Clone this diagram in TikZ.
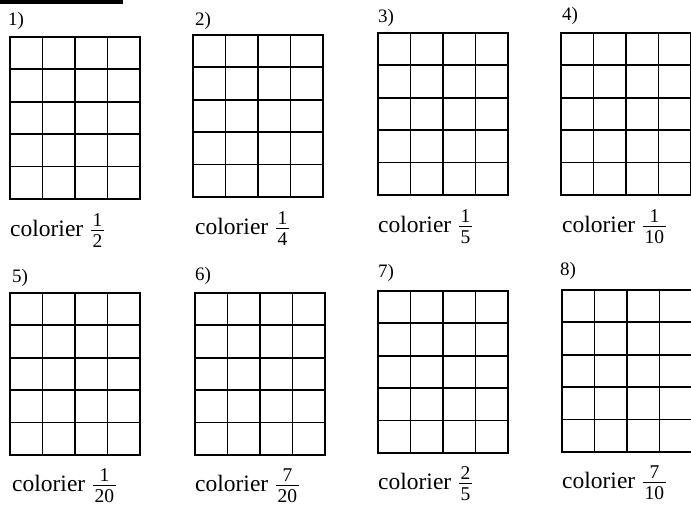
\documentclass[tikz,border=0pt]{standalone}
\usepackage{fontspec}
\setmainfont{Liberation Serif}
% stacked fraction with digits at text size
\newcommand{\frc}[2]{\hspace{2pt}\ensuremath{\vcenter{\fontsize{19.5}{20}\selectfont
  \setbox0\hbox{#1}\setbox2\hbox{#2}%
  \dimen0=\ifdim\wd0>\wd2 \wd0\else\wd2\fi
  \advance\dimen0 by 3pt
  \hbox to\dimen0{\hss\box0\hss}\kern3.6pt
  \hrule height 0.9pt
  \kern3.6pt
  \hbox to\dimen0{\hss\box2\hss}}}}

\begin{document}
\begin{tikzpicture}[x=1pt,y=1pt,
  grille/.pic={\draw[line width=1.8pt,x=32.5pt,y=32.4pt] (0,0) grid[step=1] (4,5) (0,0) rectangle (4,5);},
  numero/.style={anchor=base west,inner sep=0pt,font=\fontsize{19}{22}\selectfont},
  consigne/.style={anchor=base west,inner sep=0pt,font=\fontsize{23.5}{26}\selectfont}]
  \useasboundingbox (0,0) rectangle (691,506);
  % Bar at the top
  \fill (0,502) rectangle (123,506);
  % Exercise 1
  \pic at (10,307) {grille};
  \node[numero] (n1) at (8,480) {1)};
  \node[consigne] (c1) at (10,269) {colorier \frc{1}{2}};
  % Exercise 2
  \pic at (193,309) {grille};
  \node[numero] (n2) at (195,480) {2)};
  \node[consigne] (c2) at (195,271) {colorier \frc{1}{4}};
  % Exercise 3
  \pic at (378,311) {grille};
  \node[numero] (n3) at (378,483) {3)};
  \node[consigne] (c3) at (378,273) {colorier \frc{1}{5}};
  % Exercise 4
  \pic at (561,311) {grille};
  \node[numero] (n4) at (562,485) {4)};
  \node[consigne] (c4) at (562,273) {colorier \frc{1}{10}};
  % Exercise 5
  \pic at (10,51) {grille};
  \node[numero] (n5) at (12,223) {5)};
  \node[consigne] (c5) at (12,14) {colorier \frc{1}{20}};
  % Exercise 6
  \pic at (195,51) {grille};
  \node[numero] (n6) at (195,225) {6)};
  \node[consigne] (c6) at (195,14) {colorier \frc{7}{20}};
  % Exercise 7
  \pic at (378,53) {grille};
  \node[numero] (n7) at (378,228) {7)};
  \node[consigne] (c7) at (378,16) {colorier \frc{2}{5}};
  % Exercise 8
  \pic at (562,54) {grille};
  \node[numero] (n8) at (560,230) {8)};
  \node[consigne] (c8) at (562,17) {colorier \frc{7}{10}};
\end{tikzpicture}
\end{document}
